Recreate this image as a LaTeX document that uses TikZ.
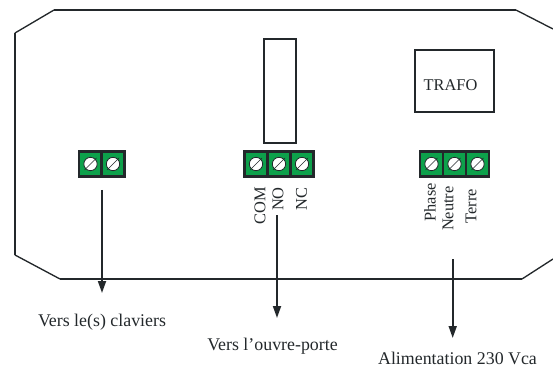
\documentclass[tikz,border=0pt]{standalone}
\usepackage{fontspec}
\setmainfont{Liberation Serif}
\usetikzlibrary{arrows.meta,calc}
\definecolor{ink}{HTML}{23282B}
\definecolor{blockgreen}{HTML}{0DA14B}
\tikzset{
  x=0.75pt,y=-0.75pt,
  outline/.style={draw=ink,line width=1.5pt,line join=round},
  chamfer/.style={draw=ink,line width=1pt},
  lead/.style={draw=ink,line width=1.35pt,-{Triangle[length=9pt,width=6pt]}},
  label/.style={text=ink,font=\fontsize{13.4}{15}\selectfont,inner sep=0pt,anchor=base},
  trafolabel/.style={text=ink,font=\fontsize{12.3}{14}\selectfont,inner sep=0pt},
  vlabel/.style={text=ink,font=\fontsize{12.3}{14}\selectfont,inner sep=0pt,rotate=90,anchor=east},
  cell/.style={draw=ink,line width=1.8pt,fill=blockgreen,minimum width=17pt,minimum height=19pt,inner sep=0pt},
  box/.style={draw=ink,line width=1.7pt,inner sep=0pt},
}
\newcommand{\screw}[1]{%
  \fill[white,draw=ink,line width=0.6pt] (#1) circle (5pt);
  \draw[ink,line width=0.5pt] ($(#1)+(-6,6)$) -- ($(#1)+(6,-6)$);}
\begin{document}
\begin{tikzpicture}
\useasboundingbox (0,0) rectangle (553,367);
\draw[chamfer] (54,10) -- (15,33);
\draw[chamfer] (15,255) -- (60,279);
\draw[chamfer] (516,10) -- (553,29);
\draw[chamfer] (522,279) -- (553,259);
\draw[outline] (54,10) -- (516,10);
\draw[outline] (15,33) -- (15,255);
\draw[outline] (60,279) -- (522,279);
\node[box,minimum width=24pt,minimum height=78pt] (relay) at (280,91) {};
\node[box,minimum width=59.25pt,minimum height=46.5pt] (trafo) at (454.5,81) {};
\node[trafolabel] at (450.5,85) {TRAFO};
\foreach \n/\x/\y in {a/90.5/164,b/113/164,c/256/164,d/279/164,e/302/164,f/431.5/164,g/454.5/164,h/477.5/164}{
  \node[cell] (\n) at (\x,\y) {};
  \screw{\n}
}
\node[vlabel] at (260,187) {COM};
\node[vlabel] at (278,187) {NO};
\node[vlabel] at (301.5,187) {NC};
\node[vlabel] at (430,183) {Phase};
\node[vlabel] at (448,186) {Neutre};
\node[vlabel] at (471,189) {Terre};
\coordinate (s1) at (102,190);
\coordinate (e1) at (102,293);
\coordinate (s2) at (277,215);
\coordinate (e2) at (277,318);
\coordinate (s3) at (452.7,259);
\coordinate (e3) at (452.7,338);
\draw[lead] (s1) -- (e1);
\draw[lead] (s2) -- (e2);
\draw[lead] (s3) -- (e3);
\node[label] (l1) at (102,326) {Vers le(s) claviers};
\node[label] (l2) at (272.5,350) {Vers l’ouvre-porte};
\node[label] (l3) at (457.5,364) {Alimentation 230 Vca};
\end{tikzpicture}
\end{document}
